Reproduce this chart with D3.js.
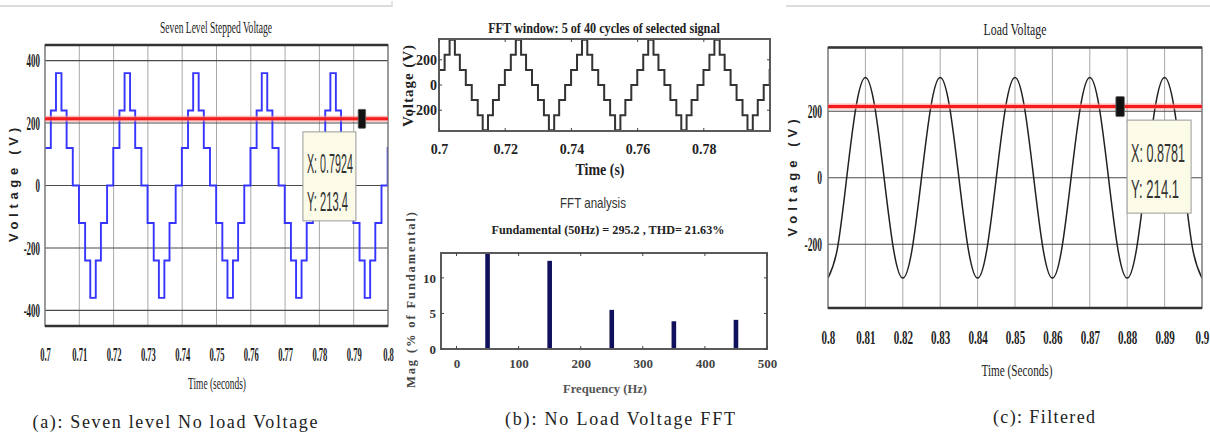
<!DOCTYPE html>
<html>
<head>
<meta charset="utf-8">
<script src="https://cdn.jsdelivr.net/npm/d3@7"></script>
<style>
  body { margin: 0; background: #fff; }
  svg { display: block; }
</style>
</head>
<body>
<div id="chart"></div>
<script>
// ---- data ----
// seven level stepped wave: one 20 ms cycle, switching instants (s after cycle start) and levels (V)
const cycleStarts = [0.70, 0.72, 0.74, 0.76, 0.78];
const stepEdges  = [0, 0.0017, 0.0032, 0.0048, 0.0063, 0.0081, 0.0099, 0.0117, 0.0132, 0.0148, 0.0163, 0.0181, 0.0199];
const stepLevels = [120, 240, 360, 240, 120, 0, -120, -240, -360, -240, -120, 0, 120];

// filtered load voltage, sampled every 2.5 ms from 0.80 s
const loadT0 = 0.80, loadDt = 0.0025;
const loadVoltage = [
  -302, -214, 0, 214, 302, 214, 0, -214,
  -302, -214, 0, 214, 302, 214, 0, -214,
  -302, -214, 0, 214, 302, 214, 0, -214,
  -302, -214, 0, 214, 302, 214, 0, -214,
  -302, -214, 0, 214, 302, 214, 0, -214,
  -302
];

// FFT harmonics (% of fundamental)
const fftFreq = [50, 150, 250, 350, 450];
const fftMag  = [100, 12.4, 5.5, 3.9, 4.1];

// data cursors
const cursorA = { x: 0.7924, y: 213.4 };
const cursorC = { x: 0.8781, y: 214.1 };

// ticks
const ticksAx = [0.70, 0.71, 0.72, 0.73, 0.74, 0.75, 0.76, 0.77, 0.78, 0.79, 0.80];
const labelsAx = ["0.7", "0.71", "0.72", "0.73", "0.74", "0.75", "0.76", "0.77", "0.78", "0.79", "0.8"];
const ticksAy = [400, 200, 0, -200, -400];
const ticksB1x = [0.70, 0.72, 0.74, 0.76, 0.78];
const labelsB1x = ["0.7", "0.72", "0.74", "0.76", "0.78"];
const ticksB1y = [200, 0, -200];
const ticksB2x = [0, 100, 200, 300, 400, 500];
const ticksB2y = [0, 5, 10];
const ticksCx = [0.80, 0.81, 0.82, 0.83, 0.84, 0.85, 0.86, 0.87, 0.88, 0.89, 0.90];
const labelsCx = ["0.8", "0.81", "0.82", "0.83", "0.84", "0.85", "0.86", "0.87", "0.88", "0.89", "0.9"];
const ticksCy = [200, 0, -200];

const W = 1210, H = 435;
const SERIF = "'Liberation Serif', 'Times New Roman', serif";
const SANS = "'Liberation Sans', Arial, sans-serif";

const svg = d3.select("#chart").append("svg")
  .attr("width", W)
  .attr("height", H);
svg.append("rect").attr("width", W).attr("height", H).attr("fill", "#fff");

// faint page borders at the top
svg.append("line").attr("x1", 0).attr("x2", 392).attr("y1", 6).attr("y2", 6)
  .attr("stroke", "#dcdcdc").attr("stroke-width", 2);
svg.append("line").attr("x1", 392).attr("x2", 392).attr("y1", 1).attr("y2", 7)
  .attr("stroke", "#dcdcdc").attr("stroke-width", 1.5);
svg.append("line").attr("x1", 786).attr("x2", 1210).attr("y1", 6).attr("y2", 6)
  .attr("stroke", "#dcdcdc").attr("stroke-width", 2);

// squeeze text horizontally (the picture is narrow-set)
function squash(sel, k) {
  sel.each(function () {
    const t = d3.select(this);
    const x = +t.attr("x") || 0;
    t.attr("transform", `scale(${k},1)`).attr("x", x / k);
  });
}

function label(g, txt, x, y, o) {
  const t = g.append("text")
    .attr("x", x).attr("y", y)
    .attr("text-anchor", o.anchor || "middle")
    .attr("font-family", o.family || SERIF)
    .attr("font-size", o.size)
    .attr("font-weight", o.weight || "normal")
    .attr("fill", o.fill || "#222")
    .text(txt);
  if (o.rotate) {
    if (o.len) t.attr("textLength", o.len).attr("lengthAdjust", "spacing");
    t.attr("transform", `rotate(-90,${x},${y})`);
  } else if (o.len) {
    const w = t.node().getComputedTextLength();
    const k = o.len / w;
    if (k >= 1) {
      t.attr("textLength", o.len).attr("lengthAdjust", "spacing");
    } else {
      t.attr("x", 0).attr("y", 0).attr("transform", `translate(${x},${y}) scale(${k},1)`);
    }
  }
  return t;
}

function stepPoints() {
  const pts = [];
  cycleStarts.forEach(c => {
    stepEdges.forEach((e, i) => pts.push([c + e, stepLevels[i]]));
  });
  pts.push([0.80, stepLevels[stepLevels.length - 1]]);
  return pts;
}

function clip(id, x, y) {
  svg.append("clipPath").attr("id", id).append("rect")
    .attr("x", x.range()[0]).attr("y", y.range()[1])
    .attr("width", x.range()[1] - x.range()[0])
    .attr("height", y.range()[0] - y.range()[1]);
}

function bottomAxis(g, x, y, ticks, labels, o) {
  const ax = g.append("g")
    .attr("transform", `translate(0,${y.range()[0]})`)
    .call(d3.axisBottom(x).tickValues(ticks).tickSize(0)
      .tickFormat((d, i) => labels ? labels[i] : String(d)));
  ax.select(".domain").remove();
  const t = ax.selectAll("text")
    .attr("y", o.dy).attr("dy", null)
    .attr("font-family", SERIF).attr("font-size", o.size)
    .attr("font-weight", "bold").attr("fill", o.fill || "#222");
  if (o.k) squash(t, o.k);
}

function leftAxis(g, x, y, ticks, o) {
  const ax = g.append("g")
    .attr("transform", `translate(${x.range()[0]},0)`)
    .call(d3.axisLeft(y).tickValues(ticks).tickSize(0).tickFormat(d => String(d)));
  ax.select(".domain").remove();
  const t = ax.selectAll("text")
    .attr("x", -o.gap)
    .attr("font-family", SERIF).attr("font-size", o.size)
    .attr("font-weight", "bold").attr("fill", o.fill || "#222");
  if (o.k) squash(t, o.k);
}

function grid(g, x, y, xt, yt) {
  const [x0, x1] = x.range(), [y0, y1] = y.range();
  g.selectAll(null).data(xt).join("line")
    .attr("x1", d => x(d)).attr("x2", d => x(d)).attr("y1", y1).attr("y2", y0)
    .attr("stroke", "#a9a9a9").attr("stroke-width", 1);
  g.selectAll(null).data(yt).join("line")
    .attr("x1", x0).attr("x2", x1).attr("y1", d => y(d)).attr("y2", d => y(d))
    .attr("stroke", "#4a4a4a").attr("stroke-width", 1.1);
}

function matlabFrame(g, x, y) {
  const [x0, x1] = x.range(), [y0, y1] = y.range();
  g.append("rect").attr("x", x0).attr("y", y1).attr("width", x1 - x0).attr("height", y0 - y1)
    .attr("fill", "none").attr("stroke", "#7a7a7a").attr("stroke-width", 1.5);
  [y0, y1].forEach(yy => g.append("line").attr("x1", x0).attr("x2", x1).attr("y1", yy).attr("y2", yy)
    .attr("stroke", "#333").attr("stroke-width", 2.5));
}

function boxFrame(g, x, y, xt, yt) {
  const [x0, x1] = x.range(), [y0, y1] = y.range();
  g.append("rect").attr("x", x0).attr("y", y1).attr("width", x1 - x0).attr("height", y0 - y1)
    .attr("fill", "none").attr("stroke", "#5a5a5a").attr("stroke-width", 2);
  const tk = 3;
  xt.forEach(d => {
    g.append("line").attr("x1", x(d)).attr("x2", x(d)).attr("y1", y0).attr("y2", y0 - tk).attr("stroke", "#444");
    g.append("line").attr("x1", x(d)).attr("x2", x(d)).attr("y1", y1).attr("y2", y1 + tk).attr("stroke", "#444");
  });
  yt.forEach(d => {
    g.append("line").attr("x1", x0).attr("x2", x0 + tk).attr("y1", y(d)).attr("y2", y(d)).attr("stroke", "#444");
    g.append("line").attr("x1", x1).attr("x2", x1 - tk).attr("y1", y(d)).attr("y2", y(d)).attr("stroke", "#444");
  });
}

function cursor(g, x, y, c, box) {
  const [x0, x1] = x.range();
  const cy = y(c.y), cx = x(c.x);
  g.append("line").attr("x1", x0).attr("x2", x1).attr("y1", cy).attr("y2", cy)
    .attr("stroke", "#ff8c8c").attr("stroke-width", 6).attr("opacity", 0.6);
  g.append("line").attr("x1", x0).attr("x2", x1).attr("y1", cy).attr("y2", cy)
    .attr("stroke", "#f21c1c").attr("stroke-width", 3);
  g.append("rect").attr("x", cx - box.mw / 2).attr("y", cy - box.mh / 2)
    .attr("width", box.mw).attr("height", box.mh).attr("rx", 1)
    .attr("fill", "#111").attr("stroke", "#666").attr("stroke-width", 0.8);
  const bx = cx + box.dx, by = cy + box.dy;
  g.append("rect").attr("x", bx).attr("y", by).attr("width", box.w).attr("height", box.h)
    .attr("fill", "#fbfbe8").attr("stroke", "#9a9a9a").attr("stroke-width", 1);
  label(g, `X: ${c.x}`, bx + 4, by + box.l1, { anchor: "start", family: SANS, size: box.fs, fill: "#333", len: box.w1 });
  label(g, `Y: ${c.y}`, bx + 4, by + box.l2, { anchor: "start", family: SANS, size: box.fs, fill: "#333", len: box.w2 });
}

// ================= (a) seven level stepped voltage =================
{
  const x = d3.scaleLinear().domain([0.7, 0.8]).range([45, 388]);
  const y = d3.scaleLinear().domain([-450, 450]).range([326, 45]);
  const g = svg.append("g");
  grid(g, x, y, ticksAx.slice(1, -1), ticksAy);
  clip("clipA", x, y);
  g.append("path").datum(stepPoints())
    .attr("clip-path", "url(#clipA)")
    .attr("fill", "none").attr("stroke", "#3535ff").attr("stroke-width", 1.9)
    .attr("d", d3.line().x(d => x(d[0])).y(d => y(d[1])).curve(d3.curveStepAfter));
  matlabFrame(g, x, y);
  bottomAxis(g, x, y, ticksAx, labelsAx, { dy: 35, size: 19, k: 0.45 });
  leftAxis(g, x, y, ticksAy, { gap: 5, size: 19, k: 0.47 });
  cursor(g, x, y, cursorA, { mw: 7.5, mh: 19, dx: -59, dy: 13, w: 53, h: 89, l1: 41, l2: 79, fs: 27, w1: 46, w2: 41 });
  label(g, "Seven Level Stepped Voltage", 216, 33, { size: 17, len: 112 });
  label(g, "Time (seconds)", 217, 389, { size: 17, len: 58 });
  label(g, "Voltage (V)", 18, 185, { family: SANS, size: 13, weight: "bold", len: 114, rotate: true });
  label(g, "(a): Seven level No load Voltage", 175, 428, { size: 18, len: 285 });
}

// ================= (b) FFT window + FFT analysis =================
{
  const x = d3.scaleLinear().domain([0.7, 0.8]).range([439, 770]);
  const y = d3.scaleLinear().domain([-365, 365]).range([131, 39]);
  const g = svg.append("g");
  clip("clipB1", x, y);
  g.append("path").datum(stepPoints())
    .attr("clip-path", "url(#clipB1)")
    .attr("fill", "none").attr("stroke", "#333").attr("stroke-width", 2)
    .attr("d", d3.line().x(d => x(d[0])).y(d => y(d[1])).curve(d3.curveStepAfter));
  boxFrame(g, x, y, ticksB1x, ticksB1y);
  bottomAxis(g, x, y, ticksB1x, labelsB1x, { dy: 23, size: 14 });
  leftAxis(g, x, y, ticksB1y, { gap: 2, size: 14 });
  label(g, "FFT window: 5 of 40 cycles of selected signal", 604, 33, { size: 14, weight: "bold", len: 232 });
  label(g, "Time (s)", 600, 175, { size: 16, weight: "bold", len: 49 });
  label(g, "Voltage (V)", 413, 86, { size: 15, weight: "bold", len: 82, rotate: true });
  label(g, "FFT analysis", 593, 208, { family: SANS, size: 14, fill: "#333", len: 66 });

  const fx = d3.scaleLinear().domain([-25, 500]).range([441, 767]);
  const fy = d3.scaleLinear().domain([0, 13.5]).range([349, 253]);
  clip("clipB2", fx, fy);
  g.append("line").attr("x1", fx.range()[0]).attr("x2", fx.range()[1]).attr("y1", fy(0)).attr("y2", fy(0))
    .attr("stroke", "#1a1a5a").attr("stroke-width", 1.5).attr("stroke-dasharray", "2,2");
  g.append("g").attr("clip-path", "url(#clipB2)")
    .selectAll("rect").data(fftFreq).join("rect")
    .attr("x", d => fx(d) - 2.3).attr("width", 4.6)
    .attr("y", (d, i) => fy(fftMag[i]))
    .attr("height", (d, i) => fy(0) - fy(fftMag[i]))
    .attr("fill", "#10105c");
  boxFrame(g, fx, fy, ticksB2x, ticksB2y);
  bottomAxis(g, fx, fy, ticksB2x, null, { dy: 19, size: 13, fill: "#444" });
  leftAxis(g, fx, fy, ticksB2y, { gap: 5, size: 13, fill: "#333" });
  label(g, "Fundamental (50Hz) = 295.2 , THD= 21.63%", 608, 234, { size: 13, weight: "bold", len: 233 });
  label(g, "Frequency (Hz)", 605, 393, { size: 13, weight: "bold", fill: "#555", len: 84 });
  label(g, "Mag (% of Fundamental)", 415, 300, { size: 12.5, weight: "bold", fill: "#444", len: 176, rotate: true });
  label(g, "(b): No Load Voltage FFT", 620, 425, { size: 18, len: 230 });
}

// ================= (c) load voltage =================
{
  const x = d3.scaleLinear().domain([0.8, 0.9]).range([828, 1202]);
  const y = d3.scaleLinear().domain([-392, 392]).range([308, 47.5]);
  const g = svg.append("g");
  grid(g, x, y, ticksCx.slice(1, -1), ticksCy);
  clip("clipC", x, y);
  g.append("path").datum(loadVoltage)
    .attr("clip-path", "url(#clipC)")
    .attr("fill", "none").attr("stroke", "#222").attr("stroke-width", 1.5)
    .attr("d", d3.line().x((d, i) => x(loadT0 + i * loadDt)).y(d => y(d)).curve(d3.curveNatural));
  matlabFrame(g, x, y);
  bottomAxis(g, x, y, ticksCx, labelsCx, { dy: 36, size: 19, k: 0.58 });
  leftAxis(g, x, y, ticksCy, { gap: 6, size: 19, k: 0.5 });
  cursor(g, x, y, cursorC, { mw: 8.5, mh: 20, dx: 7, dy: 13.5, w: 64, h: 93, l1: 41.5, l2: 78, fs: 25, w1: 54, w2: 48 });
  label(g, "Load Voltage", 1015, 35, { size: 17, len: 63 });
  label(g, "Time (Seconds)", 1017, 376, { size: 17, len: 71 });
  label(g, "Voltage (V)", 797, 178, { family: SANS, size: 13, weight: "bold", len: 117, rotate: true });
  label(g, "(c): Filtered", 1044, 423, { size: 18, len: 102 });
  label(g, "Voltage", 1044, 448, { size: 18, len: 64 });
}
</script>
</body>
</html>
